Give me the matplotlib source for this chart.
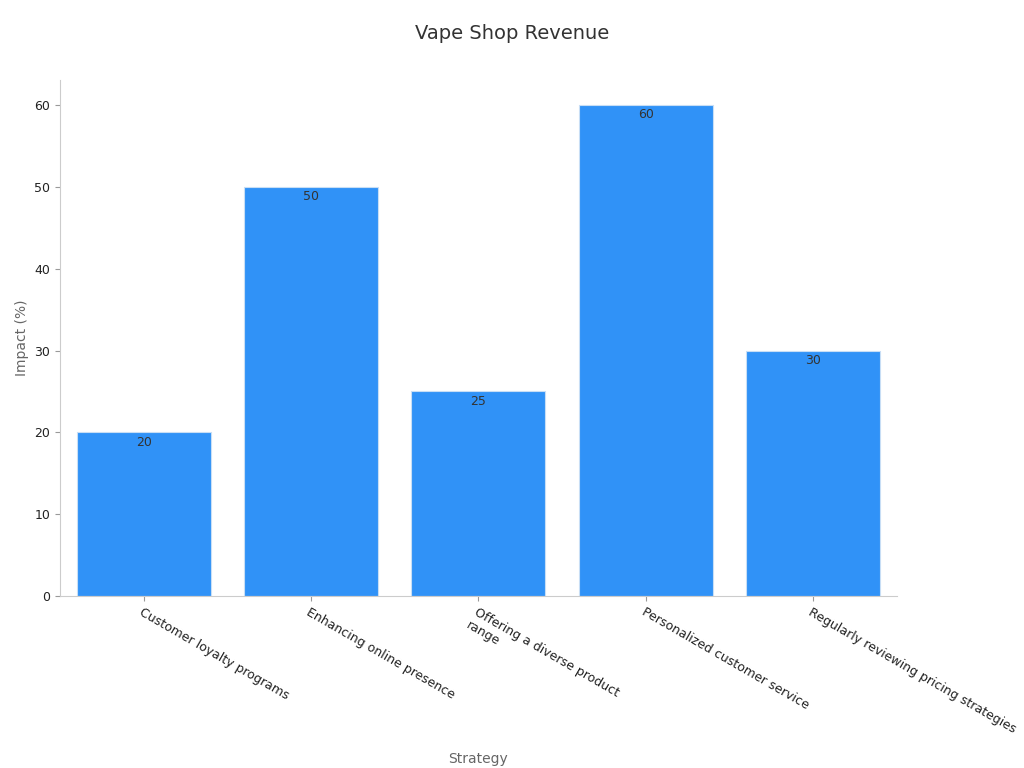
import matplotlib.pyplot as plt

strategies = [
    "Customer loyalty programs",
    "Enhancing online presence",
    "Offering a diverse product\nrange",
    "Personalized customer service",
    "Regularly reviewing pricing strategies",
]
impact = [20, 50, 25, 60, 30]

fig = plt.figure(figsize=(10.24, 7.68), dpi=100)
ax = fig.add_axes([0.0586, 0.224, 0.817, 0.672])

x = range(len(strategies))
bars = ax.bar(x, impact, width=0.8, color="#3092f7", edgecolor="#c8def5", linewidth=0.8)
for b, v in zip(bars, impact):
    ax.text(b.get_x() + b.get_width() / 2, v - 0.4, str(v), ha="center", va="top",
            fontsize=9, color="#333333")

ax.set_xlim(-0.5, 4.5)
ax.set_ylim(0, 63.1)
ax.set_yticks(range(0, 61, 10))
ax.set_xticks(list(x))
ax.set_xticklabels(strategies, rotation=-30, ha="left", rotation_mode="anchor",
                   fontsize=9, color="#222222")
ax.tick_params(axis="y", labelsize=9, colors="#222222")
ax.tick_params(color="#999999")
for s in ("top", "right"):
    ax.spines[s].set_visible(False)
for s in ("left", "bottom"):
    ax.spines[s].set_color("#cccccc")

ax.set_ylabel("Impact (%)", fontsize=10, color="#666666")
ax.set_xlabel("Strategy", fontsize=10, color="#666666", labelpad=12)
fig.text(0.5, 0.957, "Vape Shop Revenue", ha="center", va="center", fontsize=14, color="#333333")

fig.savefig("out.png", dpi=100)
